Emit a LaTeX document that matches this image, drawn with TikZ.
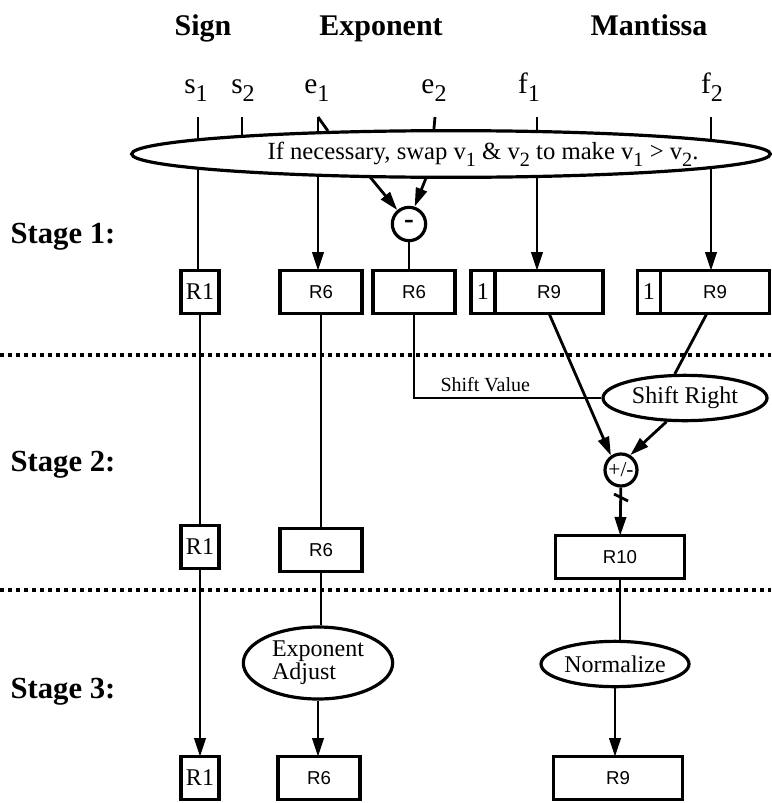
\documentclass[tikz,border=0pt]{standalone}
\usepackage{fontspec}
\usepackage{graphicx}
\setmainfont{Liberation Serif}
\setsansfont{Liberation Sans}
\usetikzlibrary{shapes.geometric, arrows.meta, calc}
\newcommand{\lo}[1]{\raisebox{-0.28em}{\scalebox{0.82}{#1}}}

\begin{document}
\begin{tikzpicture}[x=0.75pt, y=-0.75pt, line width=2.1pt,
    head/.style={font=\bfseries\fontsize{22.5}{22.5}\selectfont, anchor=base},
    stagelbl/.style={font=\bfseries\fontsize{23}{23}\selectfont},
    inp/.style={font=\fontsize{22}{22}\selectfont, anchor=base},
    reg/.style={draw, line width=2.6pt, fill=white, minimum height=32pt, inner sep=0pt,
        outer sep=0pt, font=\sffamily\fontsize{14}{14}\selectfont},
    rm/.style={font=\fontsize{18}{18}\selectfont},
    op/.style={draw, ellipse, line width=2.4pt, fill=white, inner sep=0pt,
        font=\fontsize{18}{18}\selectfont},
    alu/.style={draw, circle, line width=2.4pt, fill=white, minimum size=25pt, inner sep=0pt},
    arr/.style={-{Triangle[length=14pt,width=8.5pt]}},
    sep/.style={line width=3pt, dash pattern=on 3pt off 3pt}]
    \useasboundingbox (0,0) rectangle (771,803);

    % Headings
    \node[head] (hsign) at (203,35) {Sign};
    \node[head] (hexp) at (381,35) {Exponent};
    \node[head] (hman) at (649,35) {Mantissa};

    % Operands
    \node[inp] (ls1) at (196,93) {s\lo{1}};
    \node[inp] (ls2) at (243,93) {s\lo{2}};
    \node[inp] (le1) at (317,93) {e\lo{1}};
    \node[inp] (le2) at (434,93) {e\lo{2}};
    \node[inp] (lf1) at (529,93) {f\lo{1}};
    \node[inp] (lf2) at (712,93) {f\lo{2}};
    \coordinate (ts1) at (198,117);
    \coordinate (ts2) at (242,117);
    \coordinate (te1) at (318,117);
    \coordinate (te2) at (435,117);
    \coordinate (tf1) at (537,117);
    \coordinate (tf2) at (711,117);

    % Stage labels
    \node[stagelbl] (st1) at (63,237) {Stage 1:};
    \node[stagelbl] (st2) at (63,465) {Stage 2:};
    \node[stagelbl] (st3) at (63,692) {Stage 3:};

    % Dotted stage borders
    \draw[sep] (0,355) -- (771,355);
    \draw[sep] (0,590) -- (771,590);

    % Stage 1 registers
    \node[reg, rm, minimum width=28.5pt] (r1a) at (200,292) {R1};
    \node[reg, minimum width=61.5pt] (r6a) at (321,292) {R6};
    \node[reg, minimum width=61.5pt] (r6b) at (414,292) {R6};
    \node[reg, minimum width=81pt] (r9a) at (549,292) {R9};
    \node[rm, minimum width=16pt, inner sep=0pt, anchor=east] (one1) at (r9a.west) {1};
    \draw[line width=2.6pt] (r9a.north west) -- (r9a.north west -| one1.west)
        -- (r9a.south west -| one1.west) -- (r9a.south west);
    \node[reg, minimum width=82pt] (r9b) at (715,292) {R9};
    \node[rm, minimum width=15pt, inner sep=0pt, anchor=east] (one2) at (r9b.west) {1};
    \draw[line width=2.6pt] (r9b.north west) -- (r9b.north west -| one2.west)
        -- (r9b.south west -| one2.west) -- (r9b.south west);

    % Stage 2 registers
    \node[reg, rm, minimum width=28.5pt] (r1b) at (200,547) {R1};
    \node[reg, minimum width=61.5pt] (r6c) at (321,550) {R6};
    \node[reg, minimum width=97pt] (r10) at (620,557) {R10};

    % Stage 3 registers
    \node[reg, rm, minimum width=28.5pt] (r1c) at (200,778) {R1};
    \node[reg, minimum width=61.5pt] (r6d) at (319,778) {R6};
    \node[reg, minimum width=97pt] (r9c) at (618,778) {R9};

    % Swap stage
    \draw (ts1) -- (ts1 |- r1a.north);
    \draw (ts2) -- ++(0,30);
    \draw[arr] (te1) -- (te1 |- r6a.north);
    \draw (te1) -- ++(10,14);
    \draw (te2) -- ++(-2,22);
    \draw[arr] (tf1) -- (tf1 |- r9a.north);
    \draw[arr] (tf2) -- (tf2 |- r9b.north);
    \node[op, minimum width=479pt, minimum height=35pt] (swap) at (451,154) {};
    \node[font=\fontsize{18.5}{18.5}\selectfont] (swaptxt) at (483,154)
        {If necessary, swap v\lo{1} \& v\lo{2} to make v\lo{1} > v\lo{2}.};
    \node[alu, font=\bfseries\fontsize{22}{22}\selectfont] (sub) at (409,224) {-};
    \coordinate (sw1) at (370,177);
    \coordinate (sw2) at (426,178);
    \draw[arr] (sw1) -- (sub.130);
    \draw[arr] (sw2) -- (sub.72);
    \draw (sub) -- (sub |- r6b.north);

    % Stage 2
    \node[op, minimum width=123pt, minimum height=34pt] (shiftr) at (685,398) {Shift Right};
    \node[alu, minimum size=24pt, font=\fontsize{16}{16}\selectfont] (addsub) at (621,470) {+/-};
    \draw (r6b.south) |- (shiftr.west)
        node[pos=0.69, above, font=\fontsize{15}{15}\selectfont] {Shift Value};
    \draw (r9b.south) ++(-8,0) -- (shiftr.113);
    \draw[arr] (r9a.south) -- (addsub.125);
    \draw[arr] (shiftr.232) -- (addsub.58);
    \draw[arr] (addsub) -- (r10);
    \draw ([shift={(-7,24)}]addsub.center) -- ++(14,7);
    \draw (r1a) -- (r1b);
    \draw (r6a) -- (r6c);

    % Stage 3
    \node[op, minimum width=112pt, minimum height=54pt, align=left,
        font=\fontsize{18}{17}\selectfont] (expadj) at (318,663) {Exponent\\Adjust};
    \node[op, minimum width=111pt, minimum height=34pt] (norm) at (615,664) {Normalize};
    \draw[arr] (r1b) -- (r1c);
    \draw (r6c) -- (r6c |- expadj.north);
    \draw[arr] (expadj) -- (expadj |- r6d.north);
    \draw (r10) -- (r10 |- norm.north);
    \draw[arr] (norm) -- (norm |- r9c.north);
\end{tikzpicture}
\end{document}
